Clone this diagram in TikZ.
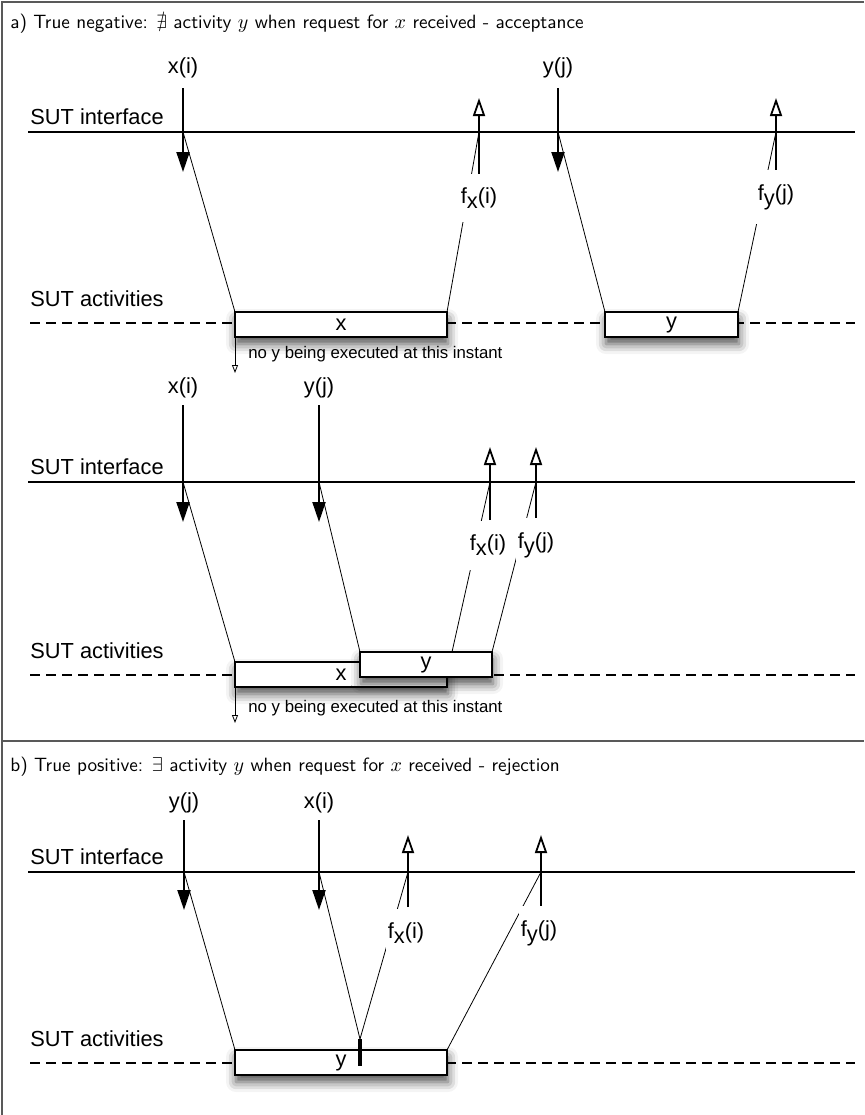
\documentclass[tikz,border=0pt]{standalone}
\usepackage{amssymb}
\usepackage{fontspec}
\newfontfamily\helv{Liberation Sans}
\usetikzlibrary{arrows.meta,shadows.blur,calc}

\tikzset{
    lbl/.style={font=\helv\fontsize{10.9}{13}\selectfont, inner sep=1pt},
    flbl/.style={lbl, fill=white, inner xsep=1pt, inner ysep=7pt},
    ttl/.style={font=\sffamily\fontsize{9.6}{11}\selectfont, anchor=base west, inner sep=0pt},
    iface/.style={line width=1pt},
    actline/.style={line width=0.8pt, dash pattern=on 5pt off 3pt},
    req/.style={line width=1pt, -{Triangle[length=10pt,width=6.5pt]}},
    resp/.style={line width=1pt, -{Triangle[open,length=9pt,width=6pt,line width=0.9pt]}},
    link/.style={line width=0.4pt},
    note/.style={line width=0.4pt, -{Triangle[open,length=4pt,width=3pt,line width=0.4pt]}},
    actbox/.style={draw, line width=1pt, fill=white, anchor=north west, inner sep=0pt, outer sep=0pt,
        minimum height=12.5pt, font=\helv\fontsize{10.9}{13}\selectfont,
        blur shadow={shadow xshift=0.5pt, shadow yshift=-3.5pt, shadow blur radius=5pt, shadow opacity=70}},
    frame/.style={line width=1pt, gray!70!black},
}
\newcommand{\fsub}[2]{f\raisebox{-0.45ex}{#1}(#2)}

\begin{document}
\begin{tikzpicture}[x=0.5pt, y=-0.5pt]
    \useasboundingbox (0,0) rectangle (864,1115);

    % frame
    \draw[frame] (2,1115) -- (2,2) -- (864,2);
    \draw[frame] (2,741) -- (864,741);
    \node[ttl] (ta) at (10,28) {a) True negative: $\nexists$ activity $y$ when request for $x$ received - acceptance};
    \node[ttl] (tb) at (10,771) {b) True positive: $\exists$ activity $y$ when request for $x$ received - rejection};

    % interface and activity lines
    \foreach \n/\yi/\ya in {1/132/323, 2/482/675, 3/872/1063} {
        \coordinate (il\n) at (28,\yi);
        \coordinate (ir\n) at (855,\yi);
        \coordinate (al\n) at (30,\ya);
        \coordinate (ar\n) at (855,\ya);
        \draw[iface] (il\n) -- (ir\n);
        \draw[actline] (al\n) -- (ar\n);
        \node[lbl, anchor=base west] (si\n) at (28,\yi-8) {SUT interface};
        \node[lbl, anchor=base west] (sa\n) at (28,\ya-17) {SUT activities};
    }

    % activities
    \node[actbox, minimum width=106pt] (X1) at (235,312) {x};
    \node[actbox, minimum width=66.5pt] (Y1) at (605,312) {y};
    \node[actbox, minimum width=106pt] (X2) at (235,662) {x};
    \node[actbox, minimum width=66pt] (Y2) at (360,652) {y};
    \node[actbox, minimum width=106pt] (Y3) at (235,1050) {y};
    \coordinate (B3) at (360,1039);
    \coordinate (B3e) at (360,1066);
    \draw[line width=2pt] (B3) -- (B3e);
    \coordinate (Y2m) at (452,652);

    % requests: name/x/label y/top/interface/tip/text
    \foreach \n/\x/\yl/\yt/\yi/\yh/\t in {
        xa/183/68/88/132/172/x(i), ya/558/68/88/132/172/y(j),
        xb/183/388/405/482/522/x(i), yb/319/388/405/482/522/y(j),
        yc/184/803/820/872/910/y(j), xc/319/803/820/872/910/x(i)} {
        \node[lbl] (L\n) at (\x,\yl) {\t};
        \coordinate (q\n) at (\x,\yt);
        \coordinate (c\n) at (\x,\yi);
        \coordinate (h\n) at (\x,\yh);
        \draw[req] (q\n) -- (h\n);
    }

    % responses: name/x/tip/interface/bottom
    \foreach \n/\x/\yt/\yi/\yb in {
        fxa/479/98/132/175, fya/776/98/132/175,
        fxb/490/447/482/520, fyb/536/447/482/520,
        fxc/408/835/872/907, fyc/541/835/872/907} {
        \coordinate (r\n) at (\x,\yt);
        \coordinate (c\n) at (\x,\yi);
        \coordinate (b\n) at (\x,\yb);
        \draw[resp] (b\n) -- (r\n);
    }

    % links between interface and activities
    \draw[link] (cxa) -- (X1.north west);
    \draw[link] (cfxa) -- (X1.north east);
    \draw[link] (cya) -- (Y1.north west);
    \draw[link] (cfya) -- (Y1.north east);
    \draw[link] (cxb) -- (X2.north west);
    \draw[link] (cyb) -- (Y2.north west);
    \draw[link] (cfxb) -- (Y2m);
    \draw[link] (cfyb) -- (Y2.north east);
    \draw[link] (cyc) -- (Y3.north west);
    \draw[link] (cxc) -- (B3);
    \draw[link] (cfxc) -- (B3);
    \draw[link] (cfyc) -- (Y3.north east);

    % response labels
    \node[flbl] (Fxa) at (479,198) {\fsub{x}{i}};
    \node[flbl] (Fya) at (776,197) {\fsub{y}{j}};
    \node[flbl] (Fxb) at (488,545) {\fsub{x}{i}};
    \node[flbl] (Fyb) at (536,545) {\fsub{y}{j}};
    \node[flbl] (Fxc) at (406,933) {\fsub{x}{i}};
    \node[flbl] (Fyc) at (539,933) {\fsub{y}{j}};

    % notes
    \foreach \n/\b/\y in {1/X1/354, 2/X2/708} {
        \coordinate (n\n) at ($(\b.south west)+(0,36)$);
        \draw[note] (\b.south west) -- (n\n);
        \node[lbl, font=\helv\fontsize{8.4}{10}\selectfont, anchor=west] (N\n) at (246,\y) {no y being executed at this instant};
    }
\end{tikzpicture}
\end{document}
